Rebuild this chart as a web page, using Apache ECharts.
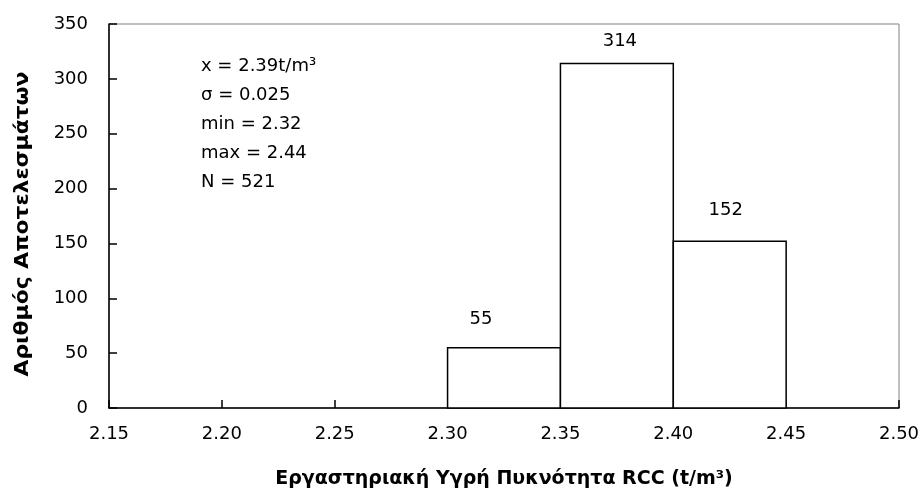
<!DOCTYPE html>
<html>
<head>
<meta charset="utf-8">
<script src="https://cdn.jsdelivr.net/npm/echarts@6/dist/echarts.min.js"></script>
<style>
  html, body { margin: 0; padding: 0; background: #fff; }
  #chart { width: 923px; height: 495px; }
</style>
</head>
<body>
<div id="chart"></div>
<script>
// Histogram bins: lower edge, upper edge (t/m³) and number of results
const binStarts = [2.30, 2.35, 2.40];
const binEnds = [2.35, 2.40, 2.45];
const counts = [55, 314, 152];

// Axis ranges and tick steps
const xMin = 2.15, xMax = 2.50, xStep = 0.05;
const yMin = 0, yMax = 350, yStep = 50;

// Axis titles
const xTitle = 'Εργαστηριακή Υγρή Πυκνότητα RCC (t/m³)';
const yTitle = 'Αριθμός Αποτελεσμάτων';

// Summary statistics shown inside the plot
const statLines = [
  'x = 2.39t/m³',
  'σ = 0.025',
  'min = 2.32',
  'max = 2.44',
  'N = 521'
];

const FONT = '"DejaVu Sans", "Liberation Sans", Arial, sans-serif';
const FS = 18;
// small nudges for the count labels above each bin
const labelNudge = [[-23, -28], [3, -22], [-4, -31]];

const chart = echarts.init(document.getElementById('chart'), null, { renderer: 'canvas' });

const binData = binStarts.map((s, i) => [s, binEnds[i], counts[i]]);

const option = {
  backgroundColor: '#ffffff',
  animation: false,
  grid: {
    left: 109, right: 24, top: 24, bottom: 87,
    containLabel: false,
    outerBoundsMode: 'none',
    show: true, borderColor: '#808080', borderWidth: 1, backgroundColor: 'transparent'
  },
  xAxis: {
    type: 'value',
    min: xMin, max: xMax, interval: xStep,
    name: xTitle,
    nameLocation: 'middle',
    nameGap: 62,
    nameTextStyle: { fontFamily: FONT, fontSize: 19, fontWeight: 'bold', color: '#000' },
    axisLine: { show: true, onZero: false, lineStyle: { color: '#000', width: 1.5 } },
    axisTick: { show: true, inside: true, length: 8, lineStyle: { color: '#000', width: 1.5 } },
    axisLabel: {
      margin: 17, fontFamily: FONT, fontSize: FS, color: '#000',
      formatter: v => v.toFixed(2)
    },
    splitLine: { show: false }
  },
  yAxis: {
    type: 'value',
    min: yMin, max: yMax, interval: yStep,
    axisLine: { show: true, lineStyle: { color: '#000', width: 1.5 } },
    axisTick: { show: true, inside: true, length: 8, lineStyle: { color: '#000', width: 1.5 } },
    axisLabel: { margin: 21, fontFamily: FONT, fontSize: FS, color: '#000' },
    splitLine: { show: false }
  },
  series: [{
    type: 'custom',
    data: binData,
    encode: { x: [0, 1], y: 2 },
    renderItem: function (params, api) {
      const x0 = api.value(0), x1 = api.value(1), n = api.value(2);
      const topLeft = api.coord([x0, n]);
      const bottomRight = api.coord([x1, 0]);
      const mid = api.coord([(x0 + x1) / 2, n]);
      const nudge = labelNudge[params.dataIndex] || [0, -24];
      return {
        type: 'group',
        children: [{
          type: 'rect',
          shape: {
            x: topLeft[0], y: topLeft[1],
            width: bottomRight[0] - topLeft[0],
            height: bottomRight[1] - topLeft[1]
          },
          style: { fill: '#ffffff', stroke: '#000000', lineWidth: 1.5 }
        }, {
          type: 'text',
          x: mid[0] + nudge[0],
          y: mid[1] + nudge[1],
          style: {
            text: String(n),
            fill: '#000', font: FS + 'px ' + FONT,
            align: 'center', verticalAlign: 'middle'
          }
        }]
      };
    }
  }],
  graphic: [{
    type: 'text',
    left: 201,
    top: 52,
    style: {
      text: statLines.join('\n'),
      fill: '#000',
      font: FS + 'px ' + FONT,
      lineHeight: 29
    }
  }, {
    // vertical axis title, stretched slightly along its length
    type: 'text',
    x: 23,
    y: 224,
    rotation: Math.PI / 2,
    scaleX: 1.15,
    style: {
      text: yTitle,
      fill: '#000',
      font: 'bold 19px ' + FONT,
      align: 'center',
      verticalAlign: 'middle'
    }
  }]
};

chart.setOption(option);
</script>
</body>
</html>
